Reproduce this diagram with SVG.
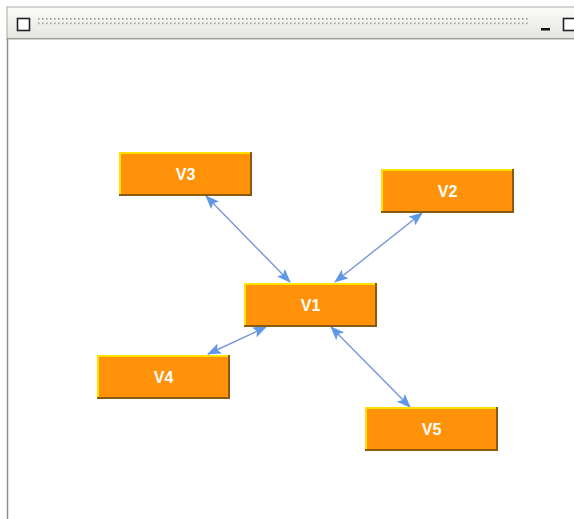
<svg xmlns="http://www.w3.org/2000/svg" width="574" height="519" viewBox="0 0 574 519">
  <defs>
    <linearGradient id="bar" x1="0" y1="0" x2="0" y2="1">
      <stop offset="0" stop-color="#fbfbf9"/>
      <stop offset="1" stop-color="#e6e5e0"/>
    </linearGradient>
    <pattern id="grip" x="38" y="18" width="4" height="4.5" patternUnits="userSpaceOnUse">
      <rect x="0" y="0" width="1.6" height="1.6" fill="#9c9c94"/>
    </pattern>
    <marker id="head" viewBox="0 0 14 11" refX="13" refY="5.5" markerWidth="14" markerHeight="11" markerUnits="userSpaceOnUse" orient="auto-start-reverse">
      <path d="M0,0 L14,5.5 L0,11 L3,5.5 Z" fill="#5f98e6"/>
    </marker>
    <style>
      .box { fill: #ff9208; }
      .hi { fill: #ffe000; }
      .sh { fill: #8a5a10; }
      .lbl { font-family: "Liberation Sans", Arial, sans-serif; font-size: 16px; font-weight: bold; fill: #ffffff; text-anchor: middle; }
      .edge { stroke: #7a95d8; stroke-width: 1.4; fill: none; marker-start: url(#head); marker-end: url(#head); }
    </style>
  </defs>

  <!-- window frame -->
  <rect x="0" y="0" width="574" height="519" fill="#ffffff"/>
  <rect x="7" y="7" width="580" height="32" fill="url(#bar)" stroke="#a9a9a4" stroke-width="1"/>
  <line x1="7" y1="38.5" x2="574" y2="38.5" stroke="#9c9c98" stroke-width="1"/>
  <line x1="7.5" y1="38" x2="7.5" y2="519" stroke="#8e8e8a" stroke-width="1.5"/>
  <rect x="17.5" y="18.5" width="12" height="12" fill="#ffffff" stroke="#222" stroke-width="1.6"/>
  <rect x="38" y="18" width="490" height="8" fill="url(#grip)"/>
  <rect x="541" y="28" width="9" height="2.5" fill="#111"/>
  <rect x="563.5" y="18.5" width="12" height="12" fill="#ffffff" stroke="#222" stroke-width="1.6"/>

  <!-- connectors -->
  <g id="edges">
    <line class="edge" x1="206" y1="196" x2="290" y2="282"/>
    <line class="edge" x1="422" y1="213" x2="335" y2="282"/>
    <line class="edge" x1="266" y1="327" x2="208" y2="354"/>
    <line class="edge" x1="331" y1="327" x2="410" y2="407"/>
  </g>

  <!-- nodes -->
  <g id="V3">
    <rect class="sh" x="119" y="152" width="133" height="44"/>
    <rect class="hi" x="119" y="152" width="131" height="42"/>
    <rect class="box" x="121" y="154" width="129" height="40"/>
    <text class="lbl" x="185.5" y="179.5">V3</text>
  </g>
  <g id="V2">
    <rect class="sh" x="381" y="169" width="133" height="44"/>
    <rect class="hi" x="381" y="169" width="131" height="42"/>
    <rect class="box" x="383" y="171" width="129" height="40"/>
    <text class="lbl" x="447.5" y="196.5">V2</text>
  </g>
  <g id="V1">
    <rect class="sh" x="244" y="283" width="133" height="44"/>
    <rect class="hi" x="244" y="283" width="131" height="42"/>
    <rect class="box" x="246" y="285" width="129" height="40"/>
    <text class="lbl" x="310.5" y="310.5">V1</text>
  </g>
  <g id="V4">
    <rect class="sh" x="97" y="355" width="133" height="44"/>
    <rect class="hi" x="97" y="355" width="131" height="42"/>
    <rect class="box" x="99" y="357" width="129" height="40"/>
    <text class="lbl" x="163.5" y="382.5">V4</text>
  </g>
  <g id="V5">
    <rect class="sh" x="365" y="407" width="133" height="44"/>
    <rect class="hi" x="365" y="407" width="131" height="42"/>
    <rect class="box" x="367" y="409" width="129" height="40"/>
    <text class="lbl" x="431.5" y="434.5">V5</text>
  </g>
</svg>
